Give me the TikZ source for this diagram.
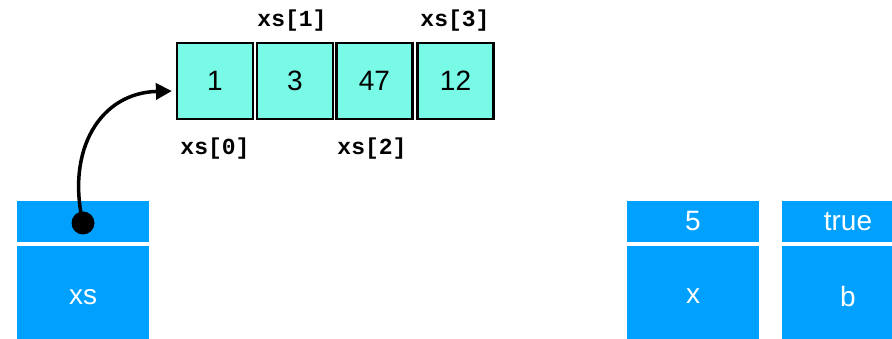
\documentclass[tikz,border=0pt]{standalone}
\usepackage{fontspec}
\setmainfont{Liberation Sans}
\setmonofont{Liberation Mono}
\usetikzlibrary{arrows.meta}
\definecolor{cellaq}{RGB}{120,250,230}
\definecolor{varblue}{RGB}{0,160,255}
\tikzset{
  arrcell/.style={draw=black, line width=2.2pt, fill=cellaq, minimum width=76pt, minimum height=76pt, inner sep=0pt, font=\fontsize{28}{30}\selectfont},
  idx/.style={font=\ttfamily\bfseries\fontsize{23}{25}\selectfont, inner sep=0pt},
  vartop/.style={fill=varblue, text=white, minimum width=132pt, minimum height=41pt, inner sep=0pt, font=\fontsize{28}{30}\selectfont},
  varbot/.style={fill=varblue, text=white, minimum width=132pt, minimum height=100pt, inner sep=0pt, font=\fontsize{28}{30}\selectfont},
  ptr/.style={line width=3.5pt, -{Triangle[length=16pt,width=16pt]}},
}
\begin{document}
\begin{tikzpicture}[x=1pt,y=-1pt]
\useasboundingbox (0,0) rectangle (892,339);
\clip (0,0) rectangle (892,339);
% array cells
\node[arrcell] (a0) at (215,81) {1};
\node[arrcell] (a1) at (295,81) {3};
\node[arrcell] (a2) at (374.5,81) {47};
\node[arrcell] (a3) at (455.5,81) {12};
% index labels
\node[idx] (l1) at (292,21) {xs[1]};
\node[idx] (l3) at (455,21) {xs[3]};
\node[idx] (l0) at (215,149) {xs[0]};
\node[idx] (l2) at (372,149) {xs[2]};
% variables
\node[vartop] (xst) at (83,221.5) {};
\node[varbot] (xsb) at (83,296) {};
\node[text=white, font=\fontsize{28}{30}\selectfont] (xsl) at (83,297) {xs};
\node[vartop] (xt) at (693,221.5) {5};
\node[varbot] (xb) at (693,296) {};
\node[text=white, font=\fontsize{28}{30}\selectfont] (xl) at (693,296) {x};
\node[vartop] (bt) at (848,221.5) {true};
\node[varbot] (bb) at (848,296) {};
\node[text=white, font=\fontsize{28}{30}\selectfont] (bl) at (848,296) {b};
% pointer
\node[circle, fill=black, minimum size=23pt, inner sep=0pt] (dot) at (83,223) {};
\draw[ptr] (dot.center) .. controls (66,150) and (100,93) .. ([xshift=-4pt,yshift=-10pt]a0.west);
\end{tikzpicture}
\end{document}
